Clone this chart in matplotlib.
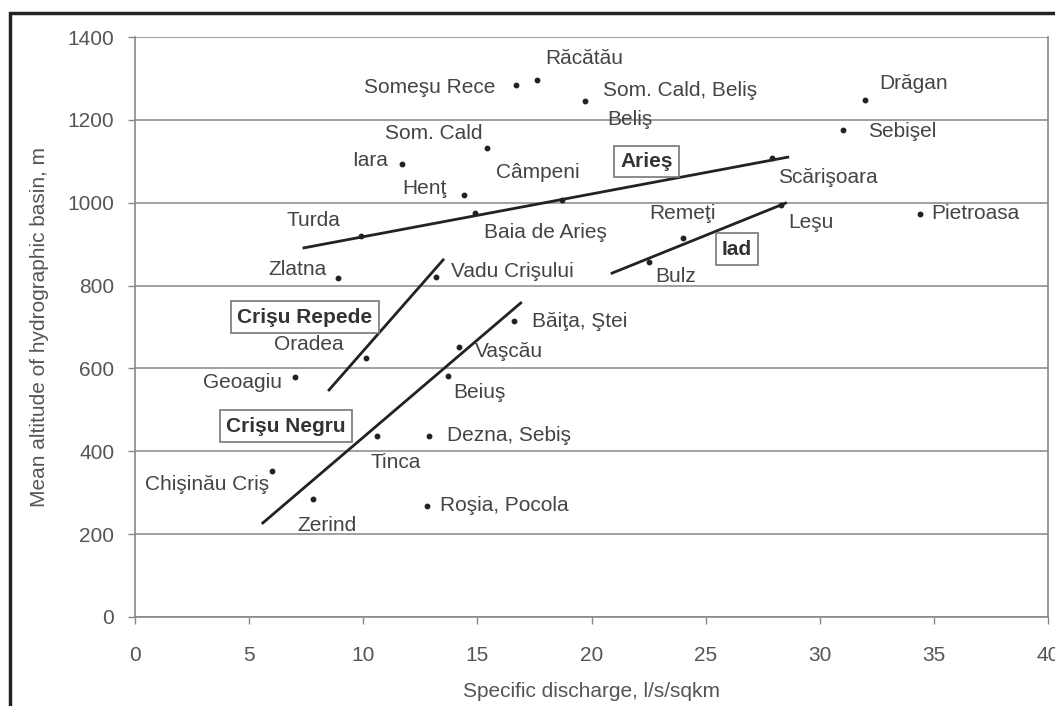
import matplotlib.pyplot as plt
from matplotlib.patches import Rectangle

plt.rcParams['font.family'] = ['Liberation Sans', 'DejaVu Sans']

# basins: specific discharge (l/s/sqkm) and mean altitude (m)
names = ['Răcătău', 'Someşu Rece', 'Som. Cald, Beliş', 'Drăgan', 'Sebişel',
         'Som. Cald', 'Iara', 'Henţ', 'Turda', 'Baia de Arieş', 'Câmpeni',
         'Scărişoara', 'Remeţi', 'Bulz', 'Leşu', 'Pietroasa', 'Zlatna',
         'Vadu Crişului', 'Oradea', 'Geoagiu', 'Băiţa, Ştei', 'Vaşcău',
         'Beiuş', 'Tinca', 'Dezna, Sebiş', 'Chişinău Criş', 'Zerind',
         'Roşia, Pocola']
discharge = [17.6, 16.7, 19.7, 32.0, 31.0, 15.4, 11.7, 14.4, 9.9, 14.9, 18.7,
             27.9, 24.0, 22.5, 28.3, 34.4, 8.9, 13.2, 10.1, 7.0, 16.6, 14.2,
             13.7, 10.6, 12.9, 6.0, 7.8, 12.8]
altitude = [1296, 1284, 1245, 1248, 1175, 1132, 1093, 1019, 920, 975, 1006,
            1108, 915, 857, 995, 973, 818, 820, 625, 579, 714, 652,
            582, 437, 437, 352, 285, 268]

# trend lines drawn for each river
rivers = ['Arieş', 'Iad', 'Crişu Repede', 'Crişu Negru']
trend_x = [(7.4, 28.6), (20.9, 28.5), (8.5, 13.5), (5.6, 16.9)]
trend_y = [(891, 1110), (830, 999), (548, 862), (227, 758)]

# where each text label sits (layout only)
label_pos = {
    'Răcătău': (19.7, 1349), 'Someşu Rece': (12.9, 1277),
    'Som. Cald, Beliş': (23.9, 1270), 'Drăgan': (34.1, 1287),
    'Sebişel': (33.6, 1173), 'Som. Cald': (13.1, 1168), 'Iara': (10.3, 1103),
    'Henţ': (12.7, 1035), 'Turda': (7.8, 958), 'Baia de Arieş': (18.0, 927),
    'Câmpeni': (17.65, 1074), 'Scărişoara': (30.35, 1062),
    'Remeţi': (24.0, 973), 'Bulz': (23.7, 823), 'Leşu': (29.6, 953),
    'Pietroasa': (36.8, 973), 'Zlatna': (7.1, 838),
    'Vadu Crişului': (16.55, 835), 'Oradea': (7.6, 657),
    'Geoagiu': (4.73, 565), 'Băiţa, Ştei': (19.5, 714), 'Vaşcău': (16.4, 640),
    'Beiuş': (15.07, 543), 'Tinca': (11.43, 372), 'Dezna, Sebiş': (16.4, 439),
    'Chişinău Criş': (3.15, 321), 'Zerind': (8.4, 220),
    'Roşia, Pocola': (16.2, 268),
}
extra_labels = [('Beliş', (21.7, 1202))]
river_pos = [(22.43, 1100), (26.37, 888), (7.45, 724), (6.6, 461)]

fig = plt.figure(figsize=(10.55, 7.06), dpi=100)
ax = fig.add_axes([135 / 1055, 1 - 617 / 706, 913 / 1055, 580 / 706])

ax.set_xlim(0, 40)
ax.set_ylim(0, 1400)
ax.set_xticks(range(0, 41, 5))
ax.set_yticks(range(0, 1401, 200))
ax.grid(axis='y', color='#999999', lw=1.3)
ax.set_axisbelow(True)
for s in ax.spines.values():
    s.set_color('#888888')
    s.set_linewidth(1.2)
ax.spines['top'].set_visible(False)
ax.tick_params(colors='#888888', labelcolor='#555555', labelsize=15,
               length=5, width=1)
ax.tick_params(axis='x', pad=16)
ax.tick_params(axis='y', pad=10)

for xs, ys in zip(trend_x, trend_y):
    ax.plot(xs, ys, color='#222222', lw=2)
ax.plot(discharge, altitude, 'o', ms=3.2, color='#222222')

for name in names:
    x, y = label_pos[name]
    ax.text(x, y, name, ha='center', va='center', fontsize=15, color='#444444')
for name, (x, y) in extra_labels:
    ax.text(x, y, name, ha='center', va='center', fontsize=15, color='#444444')
for name, (x, y) in zip(rivers, river_pos):
    ax.text(x, y, name, ha='center', va='center', fontsize=15,
            fontweight='bold', color='#333333',
            bbox=dict(boxstyle='square,pad=0.3', fc='white', ec='#777777',
                      lw=1.2))

ax.set_xlabel('Specific discharge, l/s/sqkm', fontsize=15, color='#555555',
              labelpad=12)
ax.set_ylabel('Mean altitude of hydrographic basin, m', fontsize=15,
              color='#555555', labelpad=13)

fig.patches.append(Rectangle((10 / 1055, -0.1), 1.2, 1.1 - 13 / 706,
                             transform=fig.transFigure, fill=False,
                             ec='#222222', lw=2.5))

fig.savefig('out.png', dpi=100)
